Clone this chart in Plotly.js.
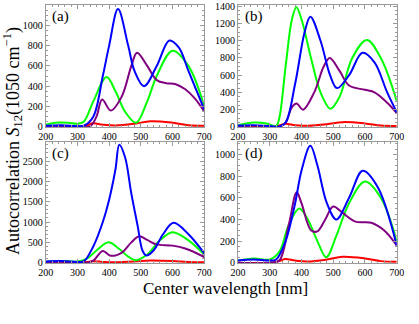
<!DOCTYPE html>
<html>
<head>
<meta charset="utf-8">
<script src="https://cdn.plot.ly/plotly-3.0.1.min.js"></script>
<style>
  body { margin: 0; padding: 0; background: #fff; }
  #chart { width: 419px; height: 324px; }
</style>
</head>
<body>
<div id="chart"></div>
<script>
// Longitudes de onda (nm), una lista por curva
const lamA_blue   = [200, 250, 300, 320, 350, 380, 400, 428, 460, 480, 510, 550, 590, 620, 650, 700];
const valA_blue   = [10, 15, 5, 10, 100, 500, 800, 1160, 800, 550, 400, 600, 850, 780, 550, 170];
const lamA_green  = [200, 230, 270, 300, 320, 350, 392, 420, 450, 485, 520, 550, 600, 650, 700];
const valA_green  = [20, 40, 40, 30, 50, 250, 490, 350, 150, 40, 250, 500, 750, 600, 200];
const lamA_purple = [200, 300, 340, 360, 378, 405, 440, 470, 488, 520, 550, 580, 610, 640, 670, 700];
const valA_purple = [0, 0, 5, 100, 270, 160, 300, 600, 730, 600, 460, 430, 420, 370, 280, 150];

const lamB_blue   = [200, 250, 300, 330, 350, 380, 410, 428, 460, 490, 512, 550, 592, 630, 670, 700];
const valB_blue   = [15, 20, 10, 5, 50, 500, 1100, 1280, 1000, 600, 450, 600, 860, 750, 400, 170];
const lamB_green  = [200, 250, 290, 320, 330, 350, 370, 384, 400, 430, 460, 491, 520, 560, 606, 650, 700];
const valB_green  = [20, 50, 40, 10, 100, 700, 1250, 1390, 1250, 800, 400, 210, 350, 800, 1010, 800, 300];
const lamB_purple = [200, 330, 350, 370, 385, 405, 440, 470, 489, 520, 550, 600, 630, 670, 700];
const valB_purple = [0, 0, 50, 230, 270, 200, 400, 700, 800, 650, 480, 430, 400, 280, 160];

const lamC_blue   = [200, 250, 300, 320, 350, 380, 400, 420, 432, 450, 470, 490, 505, 517, 540, 570, 603, 650, 700];
const valC_blue   = [30, 40, 20, 30, 400, 1000, 1550, 2300, 2900, 2600, 1700, 900, 300, 180, 300, 700, 980, 700, 230];
const lamC_green  = [200, 250, 300, 330, 360, 398, 430, 460, 485, 520, 560, 600, 650, 700];
const valC_green  = [20, 40, 30, 100, 300, 500, 350, 150, 60, 200, 550, 750, 550, 200];
const lamC_purple = [200, 330, 350, 380, 405, 440, 470, 495, 520, 550, 600, 640, 700];
const valC_purple = [0, 0, 50, 290, 170, 250, 500, 650, 560, 450, 420, 350, 140];

const lamD_blue   = [200, 250, 300, 320, 350, 380, 400, 428, 450, 480, 510, 550, 593, 640, 700];
const valD_blue   = [20, 30, 20, 30, 200, 550, 850, 1080, 900, 550, 400, 600, 850, 700, 160];
const lamD_green  = [200, 250, 300, 330, 360, 393, 420, 450, 478, 510, 550, 600, 650, 700];
const valD_green  = [20, 40, 30, 100, 350, 500, 400, 200, 50, 250, 550, 750, 600, 200];
const lamD_purple = [200, 300, 330, 360, 385, 400, 430, 450, 475, 500, 530, 570, 620, 660, 700];
const valD_purple = [0, 0, 20, 350, 650, 550, 300, 290, 400, 520, 460, 380, 370, 300, 160];

// la curva roja es casi igual en los cuatro paneles
const lamRed = [200, 300, 330, 348, 380, 420, 480, 530, 600, 650, 700];
const valRed = [0, 0, 15, 35, 20, 12, 30, 55, 40, 15, 10];

const panelLabels = ['(a)', '(b)', '(c)', '(d)'];
const yTop = [1200, 1415, 2970, 1115];
const yBottom = [-5, -5, -15, -5];
const yStep = [200, 200, 500, 200];

const FONT = 'Liberation Serif, Times New Roman, serif';
const BLUE = '#0000ff', GREEN = '#00ff00', PURPLE = '#800080', RED = '#ff0000';

function curva(x, y, color, n) {
    return {
        x: x, y: y, type: 'scatter', mode: 'lines',
        line: { color: color, width: 2, shape: 'spline', smoothing: 1 },
        xaxis: 'x' + (n === 1 ? '' : n), yaxis: 'y' + (n === 1 ? '' : n),
        showlegend: false, hoverinfo: 'skip'
    };
}

const series = [
    [lamA_blue, valA_blue, lamA_green, valA_green, lamA_purple, valA_purple],
    [lamB_blue, valB_blue, lamB_green, valB_green, lamB_purple, valB_purple],
    [lamC_blue, valC_blue, lamC_green, valC_green, lamC_purple, valC_purple],
    [lamD_blue, valD_blue, lamD_green, valD_green, lamD_purple, valD_purple]
];

const data = [];
series.forEach((s, i) => {
    const n = i + 1;
    data.push(curva(lamRed, valRed, RED, n));
    data.push(curva(s[2], s[3], GREEN, n));
    data.push(curva(s[4], s[5], PURPLE, n));
    data.push(curva(s[0], s[1], BLUE, n));
});

// dominios en pixeles del cuadro de cada panel
const W = 419, H = 324;
const xDom = [[45.7 / W, 204.3 / W], [238 / W, 396.7 / W]];
const yDom = [[1 - 127.3 / H, 1 - 5 / H], [1 - 263.3 / H, 1 - 142 / H]];

function eje(extra) {
    return Object.assign({
        showline: true, linecolor: '#9a9a9a', linewidth: 1, mirror: 'ticks',
        ticks: 'inside', ticklen: 4, tickcolor: '#9a9a9a', tickwidth: 1,
        minor: { ticks: 'inside', ticklen: 2, tickcolor: '#9a9a9a', nticks: 5 },
        showgrid: false, zeroline: false,
        tickfont: { family: FONT, size: 10, color: '#000' },
        fixedrange: true
    }, extra);
}

const layout = {
    width: W, height: H,
    margin: { l: 0, r: 0, t: 0, b: 0 },
    paper_bgcolor: '#fff', plot_bgcolor: '#fff',
    font: { family: FONT },
    annotations: []
};

for (let i = 0; i < 4; i++) {
    const n = i + 1;
    const suf = n === 1 ? '' : n;
    const col = i % 2, row = Math.floor(i / 2);
    layout['xaxis' + suf] = eje({
        domain: xDom[col], range: [200, 700], tickmode: 'linear', tick0: 200, dtick: 100,
        anchor: 'y' + suf
    });
    layout['yaxis' + suf] = eje({
        domain: yDom[row], range: [yBottom[i], yTop[i]], tickmode: 'linear', tick0: 0, dtick: yStep[i],
        anchor: 'x' + suf
    });
    layout.annotations.push({
        text: panelLabels[i], xref: 'x' + suf + ' domain', yref: 'y' + suf + ' domain',
        x: 0.03, y: 0.99, xanchor: 'left', yanchor: 'top', showarrow: false,
        font: { family: FONT, size: 15, color: '#000' }
    });
}

layout.annotations.push({
    text: 'Center wavelength [nm]', xref: 'paper', yref: 'paper',
    x: 225 / W, y: 1 - 288 / H, xanchor: 'center', yanchor: 'middle', showarrow: false,
    font: { family: FONT, size: 17, color: '#000' }
});
layout.annotations.push({
    text: 'Autocorrelation <i>S</i><sub>12</sub>(1050 cm<sup>\u22121</sup>)', xref: 'paper', yref: 'paper',
    x: 13 / W, y: 1 - 141 / H, xanchor: 'center', yanchor: 'middle', showarrow: false, textangle: -90,
    font: { family: FONT, size: 18, color: '#000' }
});

Plotly.newPlot(document.getElementById('chart'), data, layout, { displayModeBar: false, staticPlot: true });
</script>
</body>
</html>
